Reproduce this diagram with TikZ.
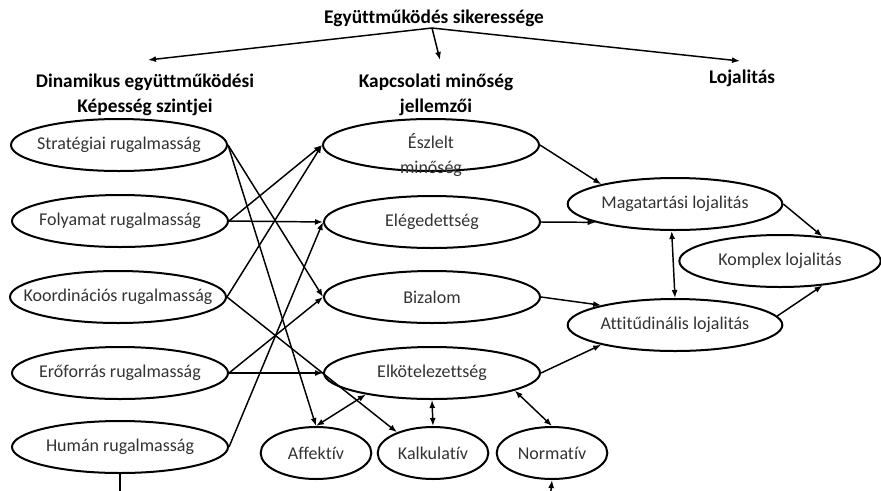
\documentclass[tikz,border=0pt]{standalone}
\usepackage{fontspec}
\setmainfont{Carlito}[Ligatures=NoCommon]
\usetikzlibrary{arrows.meta,shapes.geometric}

\begin{document}
\begin{tikzpicture}[x=0.75pt,y=-0.75pt,
    oval/.style={ellipse, draw, line width=1.5pt, inner ysep=0pt, inner xsep=-16pt,
        minimum width=162pt, minimum height=39pt, text=black!80,
        font=\fontsize{13.5}{16}\selectfont},
    smalloval/.style={oval, minimum width=83pt, minimum height=39pt},
    loyoval/.style={oval, minimum width=161pt, minimum height=39pt},
    head/.style={font=\fontsize{14.5}{19}\selectfont\bfseries, align=center},
    arr/.style={line width=1.1pt, -{Latex[length=6pt,width=4.5pt]}},
    dbl/.style={line width=1.1pt, {Latex[length=6pt,width=4.5pt]}-{Latex[length=6pt,width=4.5pt]}}]
    \useasboundingbox (0,0) rectangle (881,490);
    \clip (0,0) rectangle (881,490);

    % headings
    \node[head] (title) at (434,18) {Együttműködés sikeressége};
    \node[head] (dyn) at (145,95) {Dinamikus együttműködési\\Képesség szintjei};
    \node[head] (kap) at (436,95) {Kapcsolati minőség\\jellemzői};
    \node[head] (loy) at (742,78) {Lojalitás};
    \coordinate (split) at (432,28);
    \draw[arr] (split) -- (148,60);
    \draw[arr] (split) -- (440,60);
    \draw[arr] (split) -- (740,61);

    % capability levels
    \node[oval] (strat) at (119,145) {Stratégiai rugalmasság};
    \node[oval] (foly) at (120,221) {Folyamat rugalmasság};
    \node[oval] (koord) at (118,297) {Koordinációs rugalmasság};
    \node[oval] (eroforr) at (120,373) {Erőforrás rugalmasság};
    \node[oval] (human) at (120,447) {Humán rugalmasság};

    % relationship quality
    \node[oval] (eszl) at (431,145) {};
    \node[font=\fontsize{13.5}{19}\selectfont, text=black!80, align=center] (eszltxt) at (431,155) {Észlelt\\minőség};
    \node[oval] (eleg) at (432,222) {Elégedettség};
    \node[oval] (biz) at (432,297) {Bizalom};
    \node[oval] (elk) at (432,373) {Elkötelezettség};
    \node[smalloval] (aff) at (316,453) {Affektív};
    \node[smalloval] (kalk) at (433,453) {Kalkulatív};
    \node[smalloval] (norm) at (552,453) {Normatív};

    % loyalty
    \node[loyoval] (mag) at (675,204) {Magatartási lojalitás};
    \node[loyoval] (att) at (675,325) {Attitűdinális lojalitás};
    \node[oval, minimum width=151pt] (kompl) at (780,261) {Komplex lojalitás};

    \draw[arr] (strat.east) -- (biz.west);
    \draw[arr] (strat.east) -- (aff.north);
    \draw[arr] (foly.east) -- (eszl.west);
    \draw[arr] (foly.east) -- (eleg.west);
    \draw[arr] (koord.east) -- (eszl.west);
    \draw[arr] (koord.east) -- (kalk.150);
    \draw[arr] (eroforr.east) -- (biz.west);
    \draw[arr] (eroforr.east) -- (elk.west);
    \draw[arr] (human.east) -- (eleg.west);

    \draw[dbl] (elk.198) -- (aff.north);
    \draw[dbl] (elk.south) -- (kalk.north);
    \draw[dbl] (elk.-12) -- (norm.north);

    \draw[arr] (eszl.east) -- (mag.165);
    \draw[arr] (eleg.east) -- (mag.193);
    \draw[arr] (biz.east) -- (att.165);
    \draw[arr] (elk.east) -- (att.195);
    \draw[dbl] (mag.263) -- (att.north);
    \draw[arr] (mag.east) -- (kompl.30);
    \draw[arr] (att.5) -- (kompl.-30);

    % lines leaving the page
    \coordinate (humanout) at (120,500);
    \coordinate (normin) at (550,500);
    \draw[line width=1.1pt] (human.south) -- (humanout);
    \draw[arr] (normin) -- (norm.south);
\end{tikzpicture}
\end{document}
